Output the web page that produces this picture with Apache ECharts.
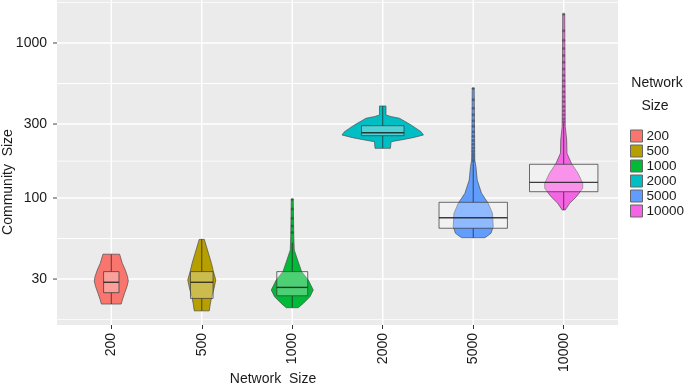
<!DOCTYPE html>
<html><head><meta charset="utf-8">
<script src="https://cdn.jsdelivr.net/npm/echarts@6/dist/echarts.min.js"></script>
<style>html,body{margin:0;padding:0;background:#fff}#c{width:685px;height:385px}</style>
</head><body><div id="c"></div>
<script>
// ---------- data ----------
const categories = ['200', '500', '1000', '2000', '5000', '10000'];

// violin outlines: [community size, half width in category units], top to bottom
const violin200 = [[43.4,0.092],[37.9,0.122],[34.3,0.155],[31.1,0.180],[29.1,0.188],[26.8,0.173],[24.3,0.147],[22.0,0.122],[20.7,0.110]];
const violin500 = [[54.1,0.028],[46.2,0.063],[37.9,0.107],[33.5,0.129],[29.6,0.155],[26.2,0.136],[23.1,0.110],[20.7,0.094],[18.7,0.083]];
const violin1000 = [[98.1,0.011],[56.3,0.017],[46.2,0.022],[39.8,0.059],[33.5,0.103],[29.6,0.177],[25.5,0.232],[23.1,0.196],[20.9,0.122],[19.6,0.066]];
const violin2000 = [[392.3,0.036],[343.1,0.036],[335.6,0.088],[326.8,0.185],[295.8,0.313],[267.8,0.423],[255.0,0.450],[244.9,0.331],[236.7,0.199],[230.8,0.092],[209.2,0.085]];
const violin5000 = [[510.3,0.011],[175.9,0.017],[159.2,0.030],[130.6,0.044],[107.2,0.092],[92.4,0.166],[79.6,0.213],[65.3,0.221],[59.2,0.196],[55.4,0.129]];
const violin10000 = [[1538,0.011],[288.4,0.017],[236.7,0.033],[194.3,0.036],[167.4,0.085],[144.3,0.158],[124.4,0.210],[115.5,0.210],[102.0,0.140],[92.4,0.066],[83.7,0.017]];

// box stats: [lower whisker, Q1, median, Q3, upper whisker]
const box200 = [20.7, 24.5, 28.6, 33.5, 43.4];
const box500 = [18.7, 22.5, 28.6, 33.5, 54.1];
const box1000 = [19.6, 23.4, 26.5, 33.5, 51.3];
const box2000 = [209.2, 252.3, 263.8, 292.7, 392.3];
const box5000 = [55.4, 63.8, 74.6, 93.8, 167.5];
const box10000 = [83.7, 109.8, 126.2, 165.0, 303.9];
// box half widths (category units, varwidth)
const boxHalfWidths = [0.085, 0.125, 0.171, 0.235, 0.378, 0.378];

// outliers
const outliers1000 = [60, 66, 74, 85, 98];
const outliers5000 = [172, 178, 185, 192, 200, 210, 222, 235, 250, 268, 290, 315, 345, 380, 430, 510];
const outliers10000 = [310, 325, 345, 365, 390, 420, 450, 485, 525, 570, 620, 680, 750, 830, 920, 1040, 1200, 1538];

// axis
const yTickValues = [30, 100, 300, 1000];
const yMinorValues = [16.4, 54.8, 173, 548, 1820];
const yRange = [15.16, 1894];
const xPositions = [0, 1, 2, 3, 4, 5];

// ---------- styling ----------
const colors = ['#F8766D', '#B79F00', '#00BA38', '#00BFC4', '#619CFF', '#F564E3'];
const FONT = "'Liberation Sans', Arial, sans-serif";
const violins = [violin200, violin500, violin1000, violin2000, violin5000, violin10000];
const boxes = [box200, box500, box1000, box2000, box5000, box10000];
const outlierSets = [[], [], outliers1000, [], outliers5000, outliers10000];
const L = Math.log10;

function makeRender(i) {
  return function (params, api) {
    const band = api.size([1, 0])[0];
    const prof = violins[i];
    const pts = [];
    for (let k = 0; k < prof.length; k++) {
      const p = api.coord([i, L(prof[k][0])]);
      pts.push([p[0] + prof[k][1] * band, p[1]]);
    }
    for (let k = prof.length - 1; k >= 0; k--) {
      const p = api.coord([i, L(prof[k][0])]);
      pts.push([p[0] - prof[k][1] * band, p[1]]);
    }
    const b = boxes[i];
    const lo = api.coord([i, L(b[0])]);
    const q1 = api.coord([i, L(b[1])]);
    const md = api.coord([i, L(b[2])]);
    const q3 = api.coord([i, L(b[3])]);
    const hi = api.coord([i, L(b[4])]);
    const hw = boxHalfWidths[i] * band;
    const cx = md[0];
    const lineCol = 'rgba(40,40,40,0.75)';
    return {
      type: 'group',
      children: [
        { type: 'polygon', shape: { points: pts }, style: { fill: colors[i], stroke: '#4d4d4d', lineWidth: 0.7 } },
        { type: 'line', shape: { x1: cx, y1: q3[1], x2: cx, y2: hi[1] }, style: { stroke: lineCol, lineWidth: 1 } },
        { type: 'line', shape: { x1: cx, y1: q1[1], x2: cx, y2: lo[1] }, style: { stroke: lineCol, lineWidth: 1 } },
        { type: 'rect', shape: { x: cx - hw, y: q3[1], width: 2 * hw, height: q1[1] - q3[1] },
          style: { fill: 'rgba(255,255,255,0.3)', stroke: 'rgba(60,60,60,0.75)', lineWidth: 1 } },
        { type: 'line', shape: { x1: cx - hw, y1: md[1], x2: cx + hw, y2: md[1] }, style: { stroke: 'rgba(30,30,30,0.85)', lineWidth: 1.4 } }
      ]
    };
  };
}

const series = [];
// panel background, gridlines and y ticks, all placed through the axes' scales
series.push({
  type: 'custom', name: 'panel', z: 0, silent: true,
  data: [[0, L(yTickValues[0])]], encode: { x: 0, y: 1 },
  renderItem: function (params, api) {
    const cs = params.coordSys;
    const children = [{ type: 'rect', shape: { x: cs.x, y: cs.y, width: cs.width, height: cs.height }, style: { fill: '#EBEBEB' } }];
    yMinorValues.forEach(v => {
      const y = api.coord([0, L(v)])[1];
      children.push({ type: 'rect', shape: { x: cs.x, y: y - 0.4, width: cs.width, height: 0.8 }, style: { fill: '#ffffff' } });
    });
    yTickValues.forEach(v => {
      const y = api.coord([0, L(v)])[1];
      children.push({ type: 'rect', shape: { x: cs.x, y: y - 0.8, width: cs.width, height: 1.6 }, style: { fill: '#ffffff' } });
      children.push({ type: 'rect', shape: { x: cs.x - 4, y: y - 0.5, width: 4, height: 1 }, style: { fill: '#444444' } });
    });
    xPositions.forEach(v => {
      const x = api.coord([v, L(yTickValues[0])])[0];
      children.push({ type: 'rect', shape: { x: x - 0.7, y: cs.y, width: 1.4, height: cs.height }, style: { fill: '#ffffff' } });
    });
    return { type: 'group', children: children };
  }
});
categories.forEach((c, i) => {
  series.push({
    type: 'custom', name: c, z: 3,
    itemStyle: { color: colors[i] },
    data: [[i, L(boxes[i][2])]],
    encode: { x: 0, y: 1 },
    renderItem: makeRender(i)
  });
  if (outlierSets[i].length) {
    series.push({
      type: 'scatter', name: 'out' + c, z: 4, symbolSize: 3,
      itemStyle: { color: 'rgba(40,40,40,0.55)' },
      data: outlierSets[i].map(v => [i, L(v)])
    });
  }
});

const option = {
  animation: false,
  backgroundColor: '#ffffff',
  textStyle: { fontFamily: FONT },
  grid: { left: 57, right: 67, top: 0, bottom: 60, show: false },
  xAxis: {
    type: 'value', min: -0.6, max: 5.6, position: 'bottom',
    axisLine: { show: false, onZero: false }, splitLine: { show: false },
    axisTick: { show: true, inside: false, customValues: xPositions, length: 4, lineStyle: { color: '#333', width: 1 } },
    axisLabel: { customValues: xPositions, formatter: v => categories[Math.round(v)], rotate: 90, margin: 8,
      fontSize: 14, color: '#1a1a1a', fontFamily: FONT }
  },
  yAxis: {
    type: 'value', min: L(yRange[0]), max: L(yRange[1]), position: 'left',
    axisLine: { show: false, onZero: false }, splitLine: { show: false },
    axisTick: { show: false },
    axisLabel: { customValues: yTickValues.map(L), formatter: v => String(Math.round(Math.pow(10, v))), margin: 10,
      fontSize: 14, color: '#1a1a1a', fontFamily: FONT }
  },
  legend: {
    data: categories, orient: 'vertical', left: 630, top: 129, padding: 0,
    itemWidth: 12, itemHeight: 12, itemGap: 1, icon: 'rect',
    itemStyle: { borderColor: '#666', borderWidth: 1 },
    textStyle: { fontSize: 13.5, lineHeight: 12, color: '#1a1a1a', fontFamily: FONT, padding: [0, 0, 0, -1] }
  },
  graphic: [
    { type: 'text', x: 8, y: 182, rotation: Math.PI / 2,
      style: { text: 'Community  Size', fontSize: 14, fontFamily: FONT, fill: '#1a1a1a', align: 'center', verticalAlign: 'middle' } },
    { type: 'text', x: 273, y: 379,
      style: { text: 'Network  Size', fontSize: 14, fontFamily: FONT, fill: '#1a1a1a', align: 'center', verticalAlign: 'middle' } },
    { type: 'text', x: 657, y: 83,
      style: { text: 'Network', fontSize: 14, fontFamily: FONT, fill: '#1a1a1a', align: 'center', verticalAlign: 'middle' } },
    { type: 'text', x: 655, y: 106,
      style: { text: 'Size', fontSize: 14, fontFamily: FONT, fill: '#1a1a1a', align: 'center', verticalAlign: 'middle' } }
  ],
  series: series
};
const chart = echarts.init(document.getElementById('c'), null, { renderer: 'canvas' });
chart.setOption(option);
</script>
</body></html>
